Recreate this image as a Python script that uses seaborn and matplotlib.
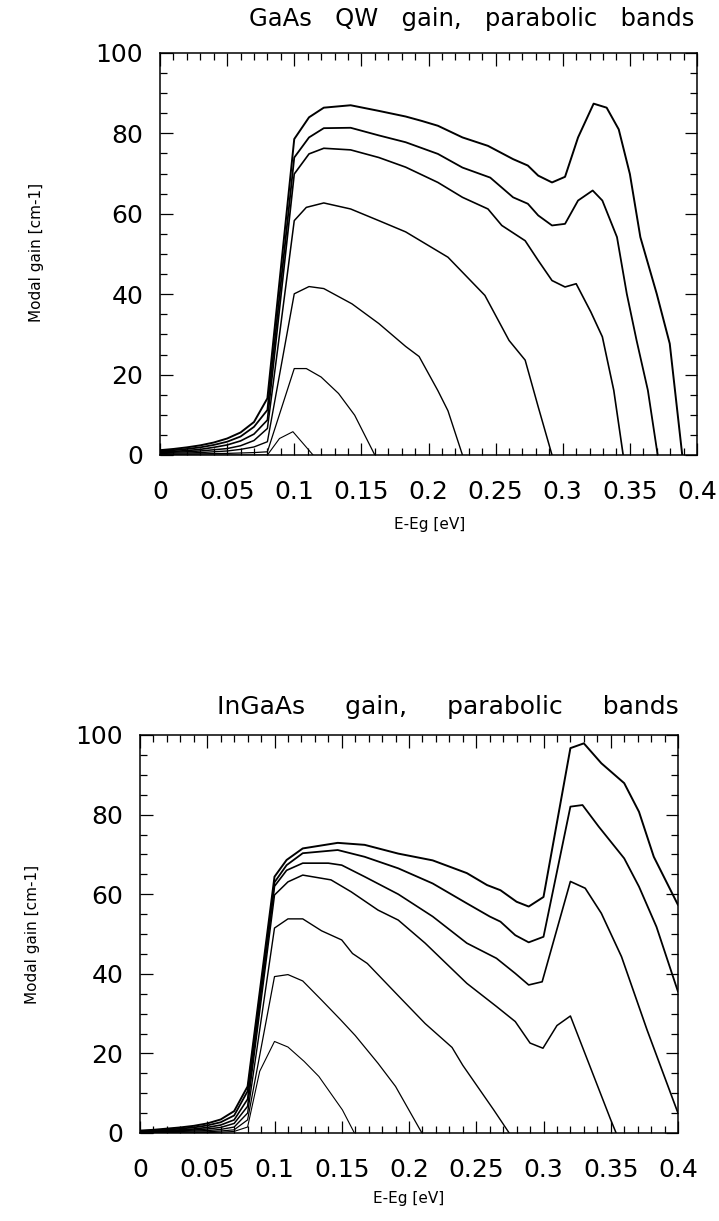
import matplotlib
matplotlib.use("Agg")
import matplotlib.pyplot as plt
import seaborn as sns
from matplotlib.ticker import MultipleLocator, FuncFormatter

# ---------------- data ----------------
left_x = [0.00, 0.01, 0.02, 0.03, 0.04, 0.05, 0.06, 0.07, 0.08]

# GaAs QW (top panel), seven carrier densities, lowest to highest
gaas_e1 = left_x + [0.089, 0.099, 0.114]
gaas_g1 = [0, 0, 0, 0, 0, 0, 0, 0, 0, 4.1, 5.8, 0]
gaas_e2 = left_x + [0.10, 0.109, 0.12, 0.133, 0.145, 0.16]
gaas_g2 = [0.2, 0.2, 0.25, 0.3, 0.35, 0.4, 0.5, 0.6, 0.8, 21.5, 21.5, 19.4, 15.3, 9.9, 0]
gaas_e3 = left_x + [0.10, 0.111, 0.122, 0.143, 0.163, 0.183, 0.193, 0.207, 0.2145, 0.2253]
gaas_g3 = [0.4, 0.45, 0.5, 0.6, 0.8, 1.0, 1.4, 2.0, 3.3,
           40.1, 41.9, 41.4, 37.6, 32.7, 27, 24.5, 16, 11, 0]
gaas_e4 = left_x + [0.10, 0.109, 0.122, 0.142, 0.163, 0.183, 0.2145, 0.242, 0.26, 0.272,
                    0.2817, 0.292]
gaas_g4 = [0.6, 0.7, 0.8, 1.0, 1.3, 1.6, 2.3, 3.6, 6.6,
           58.3, 61.6, 62.7, 61.2, 58.3, 55.5, 49.2, 39.7, 28.5, 23.6, 12, 0]
gaas_e5 = left_x + [0.10, 0.111, 0.122, 0.142, 0.163, 0.183, 0.207, 0.2253, 0.2443, 0.2546,
                    0.272, 0.2817, 0.292, 0.3017, 0.31, 0.3209, 0.3295, 0.338, 0.345]
gaas_g5 = [0.8, 0.9, 1.1, 1.4, 1.9, 2.5, 3.5, 5.2, 8.7,
           69.9, 74.9, 76.3, 75.9, 74, 71.6, 67.8, 64.1, 61.2, 57.1,
           53.3, 48.4, 43.4, 41.8, 42.6, 35.6, 29.4, 16.1, 0]
gaas_e6 = left_x + [0.10, 0.111, 0.122, 0.142, 0.163, 0.183, 0.207, 0.2253, 0.246, 0.263,
                    0.274, 0.2817, 0.292, 0.3017, 0.3114, 0.3223, 0.3295, 0.3404, 0.3477,
                    0.355, 0.3634, 0.3707]
gaas_g6 = [1.0, 1.2, 1.5, 1.9, 2.5, 3.3, 4.6, 7.0, 11.2,
           74, 79, 81.3, 81.4, 79.5, 77.8, 74.9, 71.5, 69, 64.1,
           62.5, 59.6, 57.1, 57.5, 63.3, 65.8, 63.3, 54.2, 40.1,
           28.5, 16.1, 0]
gaas_e7 = left_x + [0.10, 0.111, 0.122, 0.142, 0.163, 0.183, 0.195, 0.207, 0.2253, 0.2443,
                    0.263, 0.274, 0.2817, 0.292, 0.3017, 0.3114, 0.323, 0.3327, 0.3417,
                    0.35, 0.3578, 0.37, 0.3797, 0.389]
gaas_g7 = [1.2, 1.5, 1.9, 2.4, 3.1, 4.1, 5.6, 8.2, 14.1,
           78.6, 84, 86.4, 87, 85.6, 84.2, 83.1, 81.9, 79, 76.9,
           73.6, 72, 69.5, 67.8, 69.2, 79, 87.4, 86.4, 81,
           69.9, 54.2, 40.1, 27.7, 0]

# InGaAs (bottom panel)
ingaas_e1 = left_x + [0.089, 0.10, 0.11, 0.122, 0.133, 0.1505, 0.1594]
ingaas_g1 = [0, 0, 0, 0, 0.05, 0.1, 0.2, 0.4, 1.5, 15.5, 23, 21.6, 18, 14.2, 5.8, 0]
ingaas_e2 = left_x + [0.10, 0.11, 0.121, 0.135, 0.149, 0.16, 0.177, 0.19, 0.2096]
ingaas_g2 = [0.1, 0.12, 0.15, 0.2, 0.25, 0.3, 0.5, 0.8, 3.3,
             39.3, 39.8, 38.2, 33.4, 28.5, 24.5, 17.5, 11.7, 0]
ingaas_e3 = left_x + [0.10, 0.11, 0.121, 0.135, 0.15, 0.158, 0.169, 0.192, 0.212, 0.232,
                      0.24, 0.263, 0.2745]
ingaas_g3 = [0.2, 0.25, 0.3, 0.4, 0.5, 0.6, 0.9, 1.5, 5.0,
             51.5, 53.8, 53.8, 50.8, 48.5, 45.1, 42.6, 34.5, 27.5, 21.5, 17, 5.8, 0]
ingaas_e4 = left_x + [0.10, 0.11, 0.121, 0.142, 0.157, 0.177, 0.192, 0.212, 0.243, 0.265,
                      0.279, 0.29, 0.2996, 0.31, 0.32, 0.35, 0.354]
ingaas_g4 = [0.3, 0.35, 0.45, 0.6, 0.75, 1.0, 1.4, 2.4, 6.7,
             59.8, 63.1, 64.8, 63.6, 60.6, 56, 53.5, 47.7, 37.6, 31.8,
             28, 22.6, 21.3, 27, 29.4, 3.3, 0]
ingaas_e5 = left_x + [0.10, 0.109, 0.121, 0.14, 0.15, 0.167, 0.192, 0.2176, 0.243, 0.265,
                      0.279, 0.289, 0.299, 0.32, 0.331, 0.343, 0.358, 0.377, 0.40]
ingaas_g5 = [0.4, 0.5, 0.6, 0.8, 1.0, 1.4, 2.0, 3.3, 8.5,
             62, 66, 67.8, 67.8, 67.3, 64.4, 60, 54.4, 47.7, 43.9,
             40.1, 37.2, 38, 63.2, 61.5, 55.2, 44.3, 25.9, 5]
ingaas_e6 = left_x + [0.10, 0.109, 0.121, 0.147, 0.167, 0.192, 0.2176, 0.243, 0.26, 0.268,
                      0.279, 0.289, 0.30, 0.32, 0.329, 0.341, 0.36, 0.371, 0.384, 0.40]
ingaas_g6 = [0.5, 0.6, 0.8, 1.1, 1.4, 1.9, 2.7, 4.4, 10.5,
             63, 67.3, 70.3, 71.1, 69.4, 66.5, 62.7, 57.7, 54.4, 53.1,
             49.7, 47.9, 49.3, 82, 82.4, 77, 69, 61.9, 51.8, 35.5]
ingaas_e7 = left_x + [0.10, 0.109, 0.121, 0.147, 0.167, 0.192, 0.2176, 0.243, 0.258, 0.268,
                      0.28, 0.289, 0.30, 0.32, 0.33, 0.343, 0.36, 0.371, 0.382, 0.40]
ingaas_g7 = [0.6, 0.8, 1.1, 1.4, 1.8, 2.4, 3.4, 5.5, 11.7,
             64.4, 68.6, 71.5, 72.9, 72.4, 70.2, 68.5, 65.3, 62.3, 61,
             58.1, 56.9, 59.3, 96.7, 97.9, 92.9, 87.9, 80.7, 69.4, 57.3]

x_ticks = [0, 0.05, 0.1, 0.15, 0.2, 0.25, 0.3, 0.35, 0.4]
y_ticks = [0, 20, 40, 60, 80, 100]
titles = ["GaAs   QW   gain,   parabolic   bands",
          "InGaAs     gain,     parabolic     bands"]
x_label = "E-Eg [eV]"
y_label = "Modal gain [cm-1]"

# ---------------- figure ----------------
sns.set_theme(style="white")
plt.rcParams["font.family"] = ["DejaVu Sans"]
plt.rcParams["text.color"] = "black"
plt.rcParams["xtick.color"] = "black"
plt.rcParams["ytick.color"] = "black"
plt.rcParams["axes.labelcolor"] = "black"

W, H = 719, 1221
fig = plt.figure(figsize=(W / 100, H / 100), dpi=100)


def px_axes(l, r, t, b):
    return fig.add_axes([l / W, (H - b) / H, (r - l) / W, (b - t) / H])


ax_top = px_axes(160, 697, 53, 455)
ax_bot = px_axes(140, 678, 735, 1133)

panels = [
    (ax_top, [(gaas_e1, gaas_g1), (gaas_e2, gaas_g2), (gaas_e3, gaas_g3), (gaas_e4, gaas_g4),
              (gaas_e5, gaas_g5), (gaas_e6, gaas_g6), (gaas_e7, gaas_g7)]),
    (ax_bot, [(ingaas_e1, ingaas_g1), (ingaas_e2, ingaas_g2), (ingaas_e3, ingaas_g3),
              (ingaas_e4, ingaas_g4), (ingaas_e5, ingaas_g5), (ingaas_e6, ingaas_g6),
              (ingaas_e7, ingaas_g7)]),
]

fmt = FuncFormatter(lambda v, p: ("%g" % round(v, 3)))

for ax, curves in panels:
    for k, (xe, yg) in enumerate(curves):
        sns.lineplot(x=xe, y=yg, ax=ax, color="black", lw=0.8 + 0.1 * k,
                     sort=False, estimator=None, legend=False)
    ax.set_xlim(0, 0.4)
    ax.set_ylim(0, 100)
    ax.set_xticks(x_ticks)
    ax.set_yticks(y_ticks)
    ax.xaxis.set_major_formatter(fmt)
    ax.xaxis.set_minor_locator(MultipleLocator(0.01))
    ax.yaxis.set_minor_locator(MultipleLocator(5))
    ax.tick_params(which="both", direction="in", top=True, right=True,
                   bottom=True, left=True, color="black", width=0.9)
    ax.tick_params(which="major", length=9, labelsize=18, pad=12)
    ax.tick_params(which="minor", length=5)
    ax.tick_params(axis="x", which="major", pad=18)
    for s in ax.spines.values():
        s.set_color("black")
        s.set_linewidth(1.1)
    ax.set_xlabel("")
    ax.set_ylabel("")

# titles and axis labels
fig.text(472 / W, 1 - 19 / H, titles[0], ha="center", va="center", fontsize=17.5)
fig.text(448 / W, 1 - 707 / H, titles[1], ha="center", va="center", fontsize=18)
fig.text(430 / W, 1 - 524 / H, x_label, ha="center", va="center", fontsize=11)
fig.text(409 / W, 1 - 1199 / H, x_label, ha="center", va="center", fontsize=11)
fig.text(37 / W, 1 - 252 / H, y_label, ha="center", va="center", rotation=90, fontsize=11)
fig.text(33 / W, 1 - 934 / H, y_label, ha="center", va="center", rotation=90, fontsize=11)

fig.savefig("out.png", dpi=100, facecolor="white")
